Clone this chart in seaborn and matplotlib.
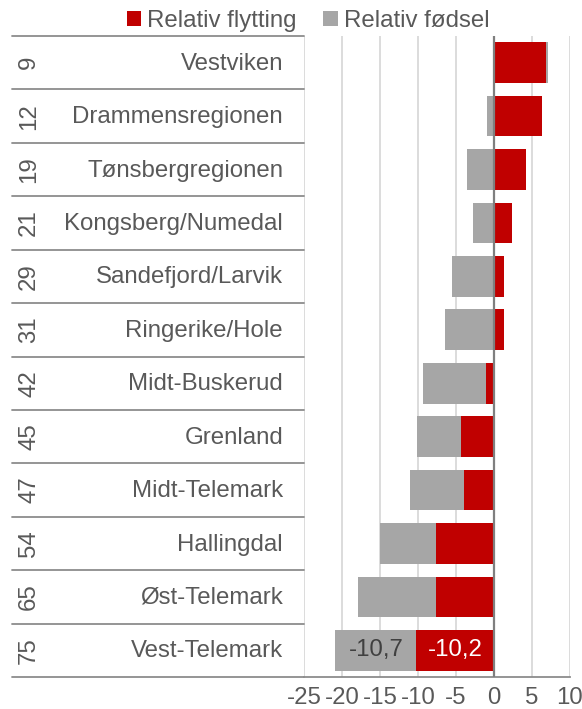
import matplotlib
matplotlib.use("Agg")
import matplotlib.pyplot as plt
from matplotlib.patches import Patch
from matplotlib.transforms import blended_transform_factory
import seaborn as sns
import pandas as pd
import numpy as np

regions = ["Vestviken", "Drammensregionen", "Tønsbergregionen", "Kongsberg/Numedal",
           "Sandefjord/Larvik", "Ringerike/Hole", "Midt-Buskerud", "Grenland",
           "Midt-Telemark", "Hallingdal", "Øst-Telemark", "Vest-Telemark"]
ranks = ["9", "12", "19", "21", "29", "31", "42", "45", "47", "54", "65", "75"]
flytting = [6.9, 6.25, 4.25, 2.4, 1.3, 1.25, -1.1, -4.3, -3.9, -7.65, -7.6, -10.2]
fodsel = [0.2, -0.9, -3.5, -2.7, -5.5, -6.5, -8.2, -5.8, -7.2, -7.35, -10.3, -10.7]
xticks = [-25, -20, -15, -10, -5, 0, 5, 10]

RED = "#C00000"
GRAY = "#A6A6A6"
TXT = "#595959"
FS = 17.3

sns.set_theme(style="white")
plt.rcParams["font.family"] = ["Liberation Sans", "DejaVu Sans"]

df = pd.DataFrame({"region": regions, "rank": ranks,
                   "flytting": flytting, "fodsel": fodsel})
# stacked end of grey segment (Excel-style stacking: same sign stacks on red)
same = np.sign(df["flytting"]) == np.sign(df["fodsel"])
df["fodsel_end"] = np.where(same, df["flytting"] + df["fodsel"], df["fodsel"])

W, H = 582, 709
fig = plt.figure(figsize=(W / 100, H / 100), dpi=100)
ax = fig.add_axes([304 / W, 1 - 677 / H, (570 - 304) / W, (677 - 36) / H])

sns.barplot(data=df, x="fodsel_end", y="region", orient="h", color=GRAY,
            saturation=1, width=0.76, ax=ax, linewidth=0, zorder=2)
sns.barplot(data=df, x="flytting", y="region", orient="h", color=RED,
            saturation=1, width=0.76, ax=ax, linewidth=0, zorder=2)

ax.set_xlim(-25, 10)
ax.set_ylim(len(regions) - 0.5, -0.5)
ax.set_xticks(xticks)
ax.set_xticklabels([str(t) for t in xticks], fontsize=FS, color=TXT)
ax.tick_params(axis="x", length=0, pad=7)
ax.set_yticks([])
ax.set_xlabel("")
ax.set_ylabel("")
ax.set_axisbelow(True)
ax.xaxis.grid(True, color="#D9D9D9", lw=1.3, zorder=0)
ax.axvline(0, color="#7F7F7F", lw=1.6, zorder=3)
for s in ["top", "right", "left"]:
    ax.spines[s].set_visible(False)
ax.spines["bottom"].set_color("#8C8C8C")
ax.spines["bottom"].set_linewidth(1.3)

# data labels on last bar
i = len(regions) - 1
ax.text((df["flytting"][i] + df["fodsel_end"][i]) / 2, i, f"{fodsel[i]:.1f}".replace(".", ","),
        ha="center", va="center", fontsize=FS, color="#404040", zorder=4)
ax.text(df["flytting"][i] / 2, i, f"{flytting[i]:.1f}".replace(".", ","),
        ha="center", va="center", fontsize=FS, color="white", zorder=4)

# left category table
tr = blended_transform_factory(fig.transFigure, ax.transData)
for k, (r, n) in enumerate(zip(regions, ranks)):
    fig.text(283 / W, 0, r, transform=tr, fontsize=FS, color=TXT,
             ha="right", va="center").set_y(k + 0.02)
    fig.text(29 / W, 0, n, transform=tr, fontsize=FS, color=TXT,
             ha="center", va="center", rotation=90).set_y(k)
for k in range(len(regions) + 1):
    ax.plot([12 / W, 304 / W], [k - 0.5, k - 0.5], transform=tr,
            color="#8C8C8C", lw=1.3, clip_on=False)

handles = [Patch(facecolor=RED, edgecolor="none"), Patch(facecolor=GRAY, edgecolor="none")]
fig.legend(handles, ["Relativ flytting", "Relativ fødsel"], loc="center",
           bbox_to_anchor=(308 / W, 1 - 21 / H), ncol=2, frameon=False,
           fontsize=FS, labelcolor=TXT, handlelength=0.6, handleheight=0.6,
           handletextpad=0.25, columnspacing=1.1, borderpad=0, borderaxespad=0)

fig.savefig("out.png", dpi=100)
